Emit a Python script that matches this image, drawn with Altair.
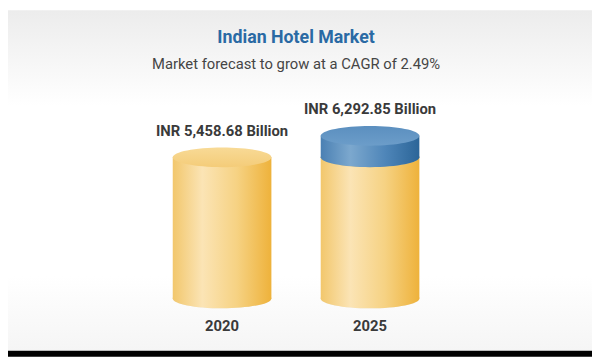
import altair as alt
import pandas as pd

years = ["2020", "2025"]
values = [5458.68, 6292.85]
value_labels = ["INR 5,458.68 Billion", "INR 6,292.85 Billion"]
title_text = "Indian Hotel Market"
subtitle_text = "Market forecast to grow at a CAGR of 2.49%"

df = pd.DataFrame({"year": years, "value": values, "label": value_labels})
df["base"] = values[0]          # yellow body = 2020 level, blue cap = growth
df["grow"] = (df["value"] > df["base"]).astype(int)

W, H = 592, 351
ELLIPSE = "M -1 0 A 1 0.2 0 1 1 1 0 A 1 0.2 0 1 1 -1 0 Z"

xs = alt.Scale(domain=years, range=[142, 442], paddingInner=0, paddingOuter=0)
ys = alt.Scale(domain=[0, 10000], range=[292, 30], nice=False, zero=True)
X = alt.X("year:N", scale=xs, axis=None)


def grad_h(stops):
    return alt.Gradient(gradient="linear", x1=0, x2=1, y1=0, y2=0,
                        stops=[alt.GradientStop(offset=o, color=c) for o, c in stops])


def grad_v(stops):
    return alt.Gradient(gradient="linear", x1=0, x2=0, y1=0, y2=1,
                        stops=[alt.GradientStop(offset=o, color=c) for o, c in stops])


yellow_side = grad_h([(0, "#f2c76c"), (0.3, "#fbe4b5"), (0.65, "#f6d283"), (1, "#eeb23b")])
yellow_top = grad_v([(0, "#f8da96"), (1, "#f4cc79")])
blue_side = grad_h([(0, "#4a80b3"), (0.3, "#7ca8ce"), (0.65, "#4f86b9"), (1, "#2b6598")])
blue_top = grad_v([(0, "#5b8fbf"), (1, "#6c9dc9")])

one = pd.DataFrame({"k": [0]})

bg = alt.Chart(one).mark_rect(
    color=grad_v([(0, "#ececec"), (0.28, "#ffffff"), (0.78, "#ffffff"), (1, "#f5f5f5")])
).encode(x=alt.value(0), x2=alt.value(W), y=alt.value(0), y2=alt.value(345))

strip = alt.Chart(one).mark_rect(color="#000000").encode(
    x=alt.value(0), x2=alt.value(W), y=alt.value(345), y2=alt.value(H))

base = alt.Chart(df).transform_calculate(ground="0")

Yg = alt.Y("ground:Q", scale=ys, axis=None)
Yb = alt.Y("base:Q", scale=ys, axis=None)
Yv = alt.Y("value:Q", scale=ys, axis=None)

shadow = base.mark_point(shape=ELLIPSE, size=10000, filled=True, color="#d9d9d9",
                         opacity=0.45, strokeWidth=0, dx=18, dy=-1).encode(x=X, y=Yg)

bottom = base.mark_point(shape=ELLIPSE, size=10000, filled=True, color=yellow_side,
                         opacity=1, strokeWidth=0).encode(x=X, y=Yg)

body = base.mark_bar(width=100, color=yellow_side).encode(x=X, y=Yb)

top_y = base.mark_point(shape=ELLIPSE, size=10000, filled=True, color=yellow_top,
                        opacity=1, strokeWidth=0).encode(x=X, y=Yb)

growth = base.transform_filter("datum.grow == 1")

blue_bottom = growth.mark_point(shape=ELLIPSE, size=10000, filled=True, color=blue_side,
                                opacity=1, strokeWidth=0).encode(x=X, y=Yb)

blue_body = growth.mark_bar(width=100, color=blue_side).encode(
    x=X, y=Yv, y2=alt.Y2("base:Q"))

blue_cap = growth.mark_point(shape=ELLIPSE, size=10000, filled=True, color=blue_top,
                             opacity=1, strokeWidth=0).encode(x=X, y=Yv)

val_text = base.mark_text(font="Roboto", fontSize=15, fontWeight="bold", color="#3a3a3a",
                          baseline="alphabetic", dy=-22).encode(
    x=X, y=Yv, text="label:N")

year_text = base.mark_text(font="Roboto", fontSize=15, fontWeight="bold", color="#3a3a3a",
                           baseline="alphabetic", dy=33).encode(
    x=X, y=Yg, text="year:N")

title = alt.Chart(one).mark_text(font="Roboto", fontSize=18, fontWeight="bold",
                                 color="#2a6aa4", baseline="alphabetic",
                                 text=title_text).encode(
    x=alt.value(292), y=alt.value(33))

subtitle = alt.Chart(one).mark_text(font="Roboto", fontSize=15, color="#454545",
                                    baseline="alphabetic", text=subtitle_text).encode(
    x=alt.value(292), y=alt.value(59))

chart = alt.layer(
    bg, strip, shadow, bottom, body, top_y, blue_bottom, blue_body, blue_cap,
    val_text, year_text, title, subtitle
).properties(
    width=W, height=H, autosize=alt.AutoSizeParams(type="none"), padding=0,
    background="#ffffff"
).configure_view(stroke=None)

chart.save("out.html", embed_options={"renderer": "svg", "actions": False})
